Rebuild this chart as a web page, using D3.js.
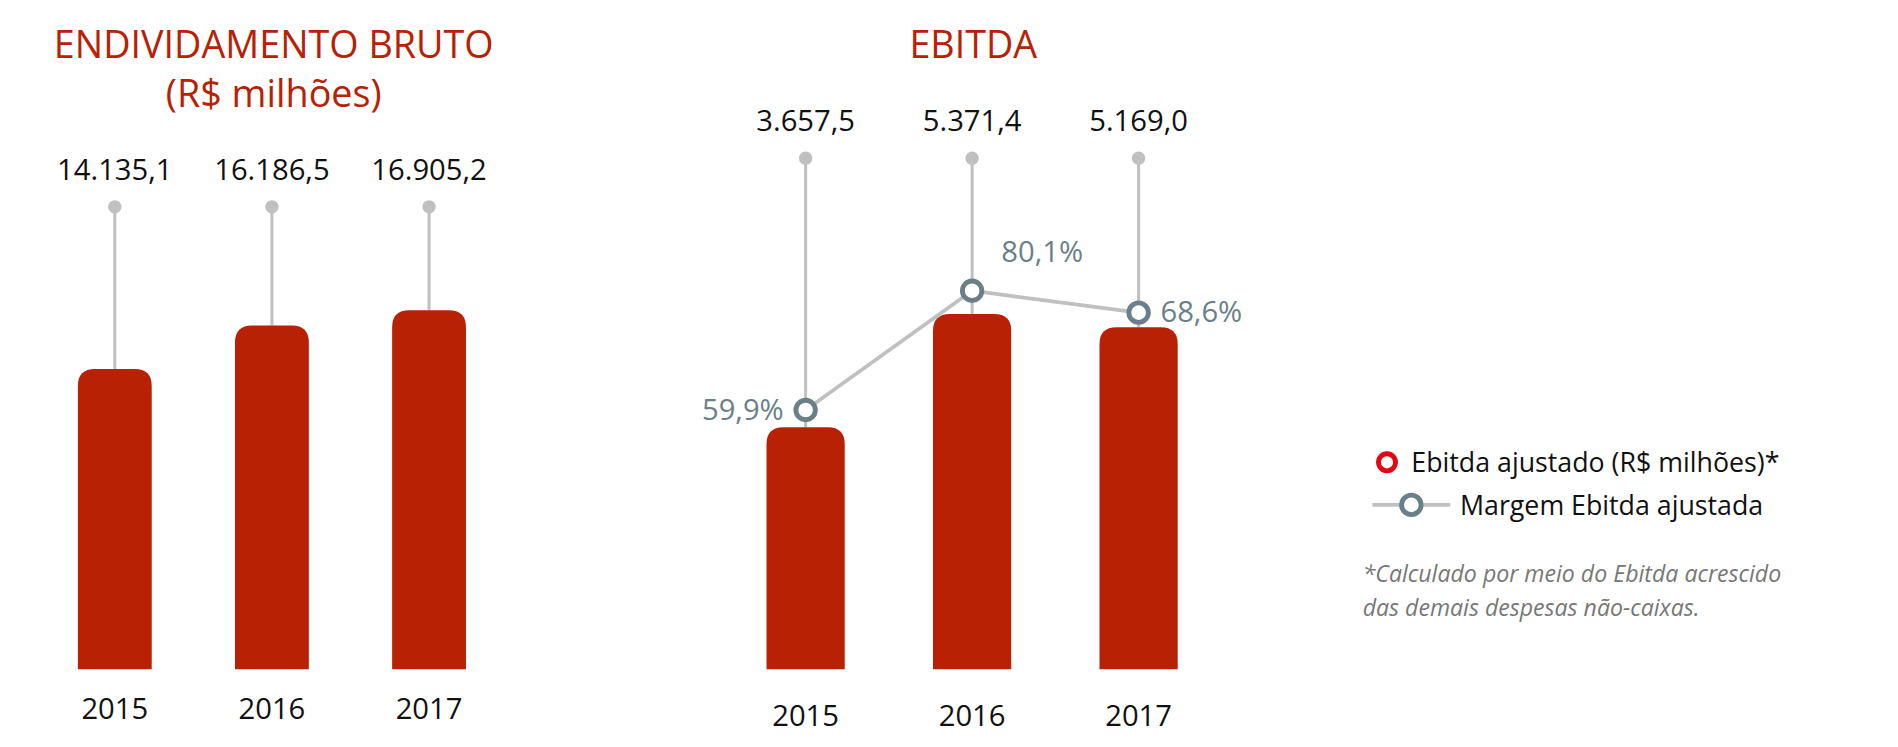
<!DOCTYPE html>
<html><head><meta charset="utf-8">
<script src="https://cdn.jsdelivr.net/npm/d3@7"></script>
<style>body{margin:0;background:#fff}</style></head>
<body><div id="chart"></div>
<script>
// data
const years = ['2015', '2016', '2017']
const debt = [14135.1, 16186.5, 16905.2]
const debtLabels = ['14.135,1', '16.186,5', '16.905,2']
const ebitda = [3657.5, 5371.4, 5169.0]
const ebitdaLabels = ['3.657,5', '5.371,4', '5.169,0']
const margin = [59.9, 80.1, 68.6]
const marginLabels = ['59,9%', '80,1%', '68,6%']

const red = '#b82104', grey = '#c0c0c0', slate = '#6b7f88'
const font = '"Open Sans", sans-serif'

const svg = d3.select('#chart').append('svg')
  .attr('width', 1898).attr('height', 747)
  .attr('viewBox', '0 0 1560 614')
  .attr('preserveAspectRatio', 'none')
  .style('font-family', font)

const bottom = 550

// bar with rounded top
let barPath = (x, y, w, h, r) =>
  `M${x},${y + h}V${y + r}Q${x},${y} ${x + r},${y}H${x + w - r}Q${x + w},${y} ${x + w},${y + r}V${y + h}Z`

let panel = (opt) => {
  const x = d3.scaleBand().domain(years).range(opt.xRange).paddingInner(0.53).paddingOuter(0)
  const y = d3.scaleLinear().domain([0, opt.max]).range([bottom, bottom - opt.span])
  const g = svg.append('g')

  g.selectAll('line.stem').data(opt.values).enter().append('line')
    .attr('x1', (d, i) => x(years[i]) + x.bandwidth() / 2)
    .attr('x2', (d, i) => x(years[i]) + x.bandwidth() / 2)
    .attr('y1', opt.dotY).attr('y2', d => y(d))
    .attr('stroke', grey).attr('stroke-width', 2.5)

  g.selectAll('circle.dot').data(opt.values).enter().append('circle')
    .attr('cx', (d, i) => x(years[i]) + x.bandwidth() / 2)
    .attr('cy', opt.dotY).attr('r', 5.5).attr('fill', grey)

  g.selectAll('path.bar').data(opt.values).enter().append('path')
    .attr('d', (d, i) => barPath(x(years[i]), y(d), x.bandwidth(), bottom - y(d), 14))
    .attr('fill', red)

  g.selectAll('text.val').data(opt.labels).enter().append('text')
    .attr('x', (d, i) => x(years[i]) + x.bandwidth() / 2)
    .attr('y', opt.dotY - 22).attr('text-anchor', 'middle')
    .attr('font-size', 24).attr('fill', '#111').text(d => d)

  g.selectAll('text.yr').data(years).enter().append('text')
    .attr('x', d => x(d) + x.bandwidth() / 2)
    .attr('y', opt.yearY).attr('text-anchor', 'middle')
    .attr('font-size', 24).attr('fill', '#111').text(d => d)

  return x
}

panel({ xRange: [64, 383], values: debt, labels: debtLabels, max: 16905.2, span: 295, dotY: 170, yearY: 591 })
const xe = panel({ xRange: [630, 968], values: ebitda, labels: ebitdaLabels, max: 5371.4, span: 292, dotY: 130, yearY: 597 })

// titles
svg.append('text').attr('x', 225).attr('y', 48).attr('text-anchor', 'middle')
  .attr('font-size', 31).attr('fill', red).text('ENDIVIDAMENTO BRUTO')
svg.append('text').attr('x', 225).attr('y', 88).attr('text-anchor', 'middle')
  .attr('font-size', 31).attr('fill', red).text('(R$ milhões)')
svg.append('text').attr('x', 800).attr('y', 48).attr('text-anchor', 'middle')
  .attr('font-size', 31).attr('fill', red).text('EBITDA')

// margin line
const ym = d3.scaleLinear().domain([59.9, 68.6, 80.1]).range([337, 257, 239])
const cx = i => xe(years[i]) + xe.bandwidth() / 2
svg.append('path')
  .attr('d', d3.line().x((d, i) => cx(i)).y(d => ym(d))(margin))
  .attr('fill', 'none').attr('stroke', grey).attr('stroke-width', 3)
svg.selectAll('circle.m').data(margin).enter().append('circle')
  .attr('cx', (d, i) => cx(i)).attr('cy', d => ym(d)).attr('r', 8)
  .attr('fill', '#fff').attr('stroke', slate).attr('stroke-width', 4)
const lblPos = [[-18, 8, 'end'], [24, -24, 'start'], [18, 8, 'start']]
svg.selectAll('text.m').data(marginLabels).enter().append('text')
  .attr('x', (d, i) => cx(i) + lblPos[i][0])
  .attr('y', (d, i) => ym(margin[i]) + lblPos[i][1])
  .attr('text-anchor', (d, i) => lblPos[i][2])
  .attr('font-size', 24).attr('fill', slate).text(d => d)

// legend
svg.append('circle').attr('cx', 1140).attr('cy', 380).attr('r', 7)
  .attr('fill', '#fff').attr('stroke', '#e30613').attr('stroke-width', 4)
svg.append('text').attr('x', 1160).attr('y', 388).attr('font-size', 22).attr('fill', '#111')
  .text('Ebitda ajustado (R$ milhões)*')
svg.append('line').attr('x1', 1128).attr('x2', 1192).attr('y1', 415).attr('y2', 415)
  .attr('stroke', grey).attr('stroke-width', 3)
svg.append('circle').attr('cx', 1160).attr('cy', 415).attr('r', 8)
  .attr('fill', '#fff').attr('stroke', slate).attr('stroke-width', 4)
svg.append('text').attr('x', 1200).attr('y', 423).attr('font-size', 22).attr('fill', '#111')
  .text('Margem Ebitda ajustada')
svg.append('text').attr('x', 1120).attr('y', 478).attr('font-size', 19).attr('font-style', 'italic')
  .attr('fill', '#777').text('*Calculado por meio do Ebitda acrescido')
svg.append('text').attr('x', 1120).attr('y', 506).attr('font-size', 19).attr('font-style', 'italic')
  .attr('fill', '#777').text('das demais despesas não-caixas.')
</script></body></html>
